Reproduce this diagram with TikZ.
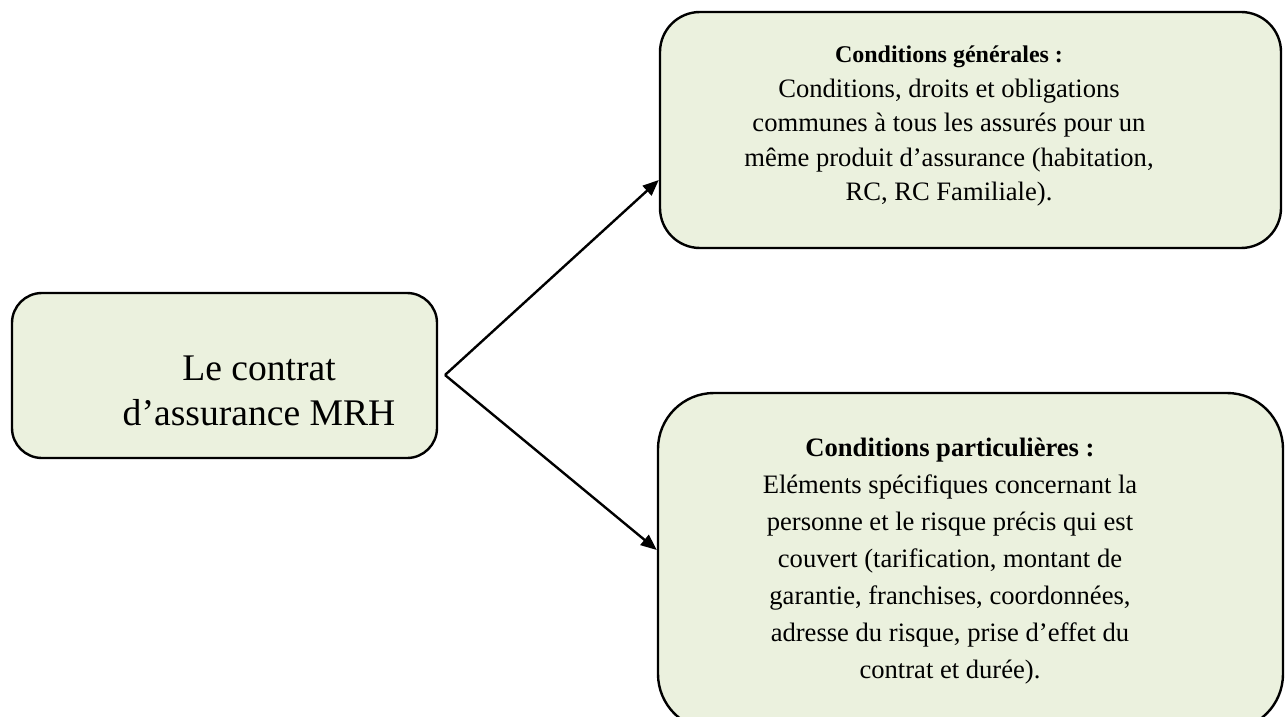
\documentclass[tikz,border=0pt]{standalone}
\usepackage{fontspec}
\setmainfont{Liberation Serif}
\usepackage{tikz}
\usetikzlibrary{arrows.meta}
\definecolor{boxgreen}{HTML}{EBF1DE}

\begin{document}
\begin{tikzpicture}[x=0.5pt, y=-0.5pt,
	box/.style={draw, fill=boxgreen, line width=1.2pt, inner sep=0pt},
	txt/.style={align=center, inner sep=0pt},
	link/.style={line width=1.2pt, -{Triangle[length=8pt, width=6.5pt]}}]
	\useasboundingbox (0,0) rectangle (1285,717);
	\node[box, rounded corners=15pt, minimum width=212.5pt, minimum height=82.5pt] (contrat) at (224.5,375.5) {};
	\node[box, rounded corners=20pt, minimum width=310.5pt, minimum height=118pt] (gen) at (970.5,130) {};
	\node[box, rounded corners=28pt, minimum width=312.5pt, minimum height=168.5pt] (part) at (970.5,561.5) {};
	\node[txt, font=\fontsize{18.8pt}{22.5pt}\selectfont] (contrattxt) at (259,390.5) {Le contrat\\d’assurance MRH};
	\node[txt, font=\fontsize{13.3pt}{17.25pt}\selectfont] (gentxt) at (949,126)
		{{\fontsize{12pt}{17.25pt}\selectfont\textbf{Conditions générales :}}\\Conditions, droits et obligations\\communes à tous les assurés pour un\\même produit d’assurance (habitation,\\RC, RC Familiale).};
	\node[txt, font=\fontsize{13.3pt}{18.5pt}\selectfont] (parttxt) at (950,561.5)
		{\textbf{Conditions particulières :}\\Eléments spécifiques concernant la\\personne et le risque précis qui est\\couvert (tarification, montant de\\garantie, franchises, coordonnées,\\adresse du risque, prise d’effet du\\contrat et durée).};
	\coordinate (fork) at (445,375);
	\draw[link] (fork) -- ([yshift=-25pt]gen.west);
	\draw[link] (fork) -- ([yshift=5.75pt]part.west);
\end{tikzpicture}
\end{document}
